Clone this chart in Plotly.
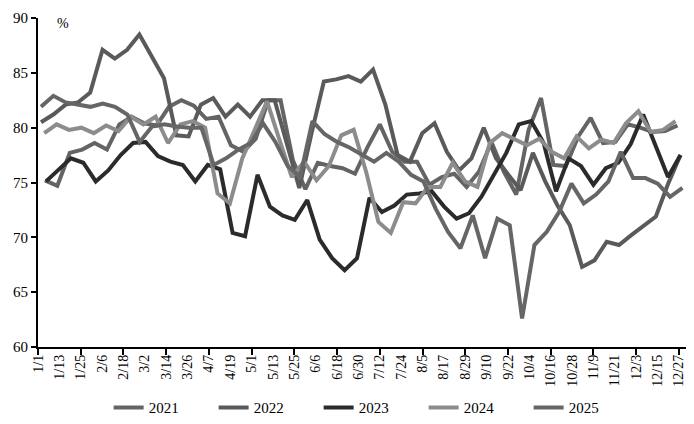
import numpy as np
import plotly.graph_objects as go

# ---- axis labels ----
tick_days = list(range(0, 361, 12))
tick_labels = ["1/1", "1/13", "1/25", "2/6", "2/18", "3/2", "3/14", "3/26", "4/7", "4/19",
               "5/1", "5/13", "5/25", "6/6", "6/18", "6/30", "7/12", "7/24", "8/5", "8/17",
               "8/29", "9/10", "9/22", "10/4", "10/16", "10/28", "11/9", "11/21", "12/3",
               "12/15", "12/27"]
mark_days = list(range(0, 361, 24))
y_ticks = [60, 65, 70, 75, 80, 85, 90]

years = ["2021", "2022", "2023", "2024", "2025"]

# ---- series values (%), weekly observations ----
v2021 = [75.2, 74.7, 77.7, 78.0, 78.6, 78.0, 80.3, 81.0, 80.4, 80.2,
         81.9, 82.5, 82.0, 80.8, 81.0, 78.4, 77.8, 79.0, 82.5, 82.5,
         77.0, 74.4, 76.8, 76.5, 76.3, 75.8, 78.2, 80.3, 77.8, 76.9,
         76.9, 74.8, 75.5, 75.8, 74.6, 76.0, 78.7, 76.0, 73.9, 79.8,
         82.7, 76.6, 76.5, 79.2, 80.9, 78.6, 78.7, 80.3, 80.0, 79.6,
         79.7, 80.2]
v2022 = [80.5, 81.2, 82.1, 82.3, 83.2, 87.1, 86.3, 87.1, 88.5, 86.5,
         84.5, 79.3, 79.2, 82.1, 82.7, 81.0, 82.1, 81.0, 82.5, 82.5,
         78.5, 74.5, 79.5, 84.2, 84.4, 84.7, 84.2, 85.3, 82.1, 77.5,
         76.9, 79.5, 80.4, 77.8, 76.1, 77.2, 80.0, 77.2, 75.7, 74.3,
         77.7, 75.1, 72.9, 71.1, 67.3, 67.9, 69.6, 69.3, 70.2, 71.1,
         71.9, 74.9, 77.5]
v2023 = [75.1, 76.2, 77.2, 76.8, 75.1, 76.1, 77.5, 78.6, 78.7, 77.4,
         76.9, 76.6, 75.1, 76.6, 76.2, 70.4, 70.1, 75.7, 72.8, 72.0,
         71.6, 73.4, 69.8, 68.1, 67.0, 68.1, 73.6, 72.3, 72.9, 73.9,
         74.0, 74.2, 72.8, 71.7, 72.2, 73.7, 75.7, 77.7, 80.3, 80.6,
         78.6, 74.2, 77.2, 76.5, 74.8, 76.3, 76.8, 78.5, 81.2, 78.4,
         75.5, 77.5]
v2024 = [79.5, 80.3, 79.8, 80.0, 79.5, 80.2, 79.7, 81.0, 80.3, 81.0,
         78.6, 80.3, 80.6, 80.0, 74.0, 73.1, 77.2, 79.8, 82.4, 78.9,
         75.5, 76.9, 75.2, 76.5, 79.3, 79.8, 76.0, 71.4, 70.4, 73.2,
         73.1, 74.6, 74.6, 76.8, 75.1, 74.6, 78.6, 79.5, 78.9, 78.4,
         79.0, 77.8, 77.2, 79.2, 78.1, 78.9, 78.6, 80.4, 81.5, 79.6,
         79.8, 80.6]
v2025 = [81.9, 82.9, 82.3, 82.1, 81.9, 82.2, 81.9, 81.2, 78.7, 80.1,
         80.3, 80.1, 80.0, 80.0, 76.6, 77.2, 78.0, 78.6, 80.4, 78.7,
         76.5, 75.5, 80.6, 79.4, 78.7, 78.2, 77.5, 76.9, 77.7, 76.9,
         75.7, 75.1, 72.6, 70.5, 69.0, 72.0, 68.1, 71.7, 71.1, 62.6,
         69.3, 70.5, 72.3, 74.9, 73.1, 73.9, 75.1, 77.8, 75.4, 75.4,
         74.9, 73.7, 74.5]

# first / last observation day-of-year for each series
first_day = [3.9, 1.7, 4.5, 3.5, 1.7]
last_day = [359.2, 360.9, 360.9, 358.1, 362.0]

series = [v2021, v2022, v2023, v2024, v2025]
colors = ["#646464", "#5a5a5a", "#2b2b2b", "#8c8c8c", "#666666"]

FONT = "Times New Roman, Liberation Serif, serif"

fig = go.Figure()
for name, vals, d0, d1, col in zip(years, series, first_day, last_day, colors):
    days = np.linspace(d0, d1, len(vals))
    fig.add_trace(go.Scatter(x=days, y=vals, mode="lines", name=name,
                             line=dict(color=col, width=4)))

# invisible carrier so the label axis (x2) is drawn
fig.add_trace(go.Scatter(x=tick_days, y=[None] * len(tick_days), xaxis="x2", yaxis="y",
                         mode="lines", showlegend=False, hoverinfo="skip"))

fig.update_layout(
    width=694, height=424,
    margin=dict(l=38, r=8, t=18, b=77, autoexpand=False),
    paper_bgcolor="white", plot_bgcolor="white",
    font=dict(family=FONT, color="black", size=15),
    showlegend=True,
    legend=dict(orientation="h", x=0.109, xanchor="left", y=-0.185, yanchor="middle",
                font=dict(family=FONT, size=15, color="black"),
                entrywidth=60, entrywidthmode="pixels",
                bgcolor="rgba(0,0,0,0)"),
    xaxis=dict(range=[0, 364], tickmode="array", tickvals=mark_days,
               showticklabels=False, ticks="outside", ticklen=6, tickwidth=2,
               tickcolor="black", showline=True, linecolor="black", linewidth=2,
               showgrid=False, zeroline=False, automargin=False),
    xaxis2=dict(range=[0, 364], overlaying="x", anchor="y", side="bottom",
                tickmode="array", tickvals=tick_days, ticktext=tick_labels,
                tickangle=-90, ticks="", ticklabelstandoff=4,
                showline=False, showgrid=False, zeroline=False, automargin=False,
                tickfont=dict(family=FONT, size=14, color="black")),
    yaxis=dict(range=[60, 90], tickmode="array", tickvals=y_ticks,
               ticks="outside", ticklen=5, tickwidth=2, tickcolor="black",
               showline=True, linecolor="black", linewidth=2,
               showgrid=False, zeroline=False, automargin=False,
               tickfont=dict(family=FONT, size=15, color="black")),
    annotations=[dict(text="%", xref="paper", yref="paper", x=0.039, y=0.982,
                      xanchor="center", yanchor="middle", showarrow=False,
                      font=dict(family=FONT, size=14, color="black"))],
)

fig.write_html("out.html", config={"displayModeBar": False})

# remove the browser's default page margin so the figure sits at the window origin
with open("out.html", encoding="utf-8") as f:
    html = f.read()
html = html.replace("<head>", "<head><style>html,body{margin:0;padding:0;}</style>", 1)
with open("out.html", "w", encoding="utf-8") as f:
    f.write(html)
